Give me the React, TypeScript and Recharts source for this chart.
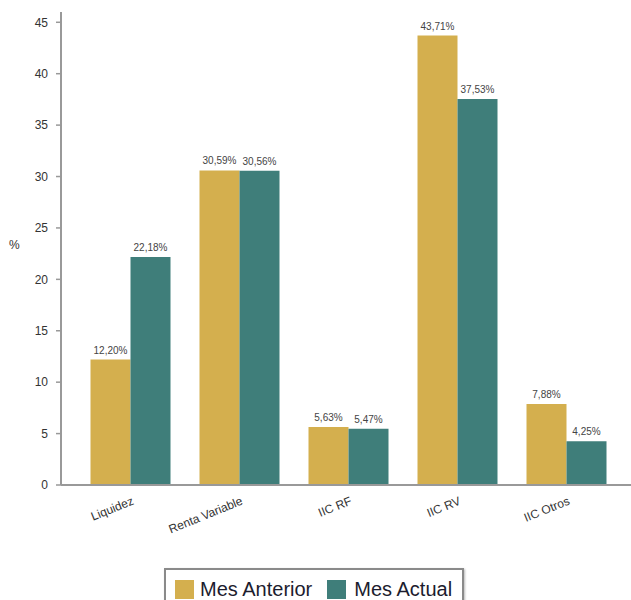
import { BarChart, Bar, XAxis, YAxis, Legend, LabelList } from 'recharts'

const categories = ['Liquidez', 'Renta Variable', 'IIC RF', 'IIC RV', 'IIC Otros']
const mesAnterior = [12.2, 30.59, 5.63, 43.71, 7.88]
const mesActual = [22.18, 30.56, 5.47, 37.53, 4.25]
const yTicks = [0, 5, 10, 15, 20, 25, 30, 35, 40, 45]

const GOLD = '#D4AF4E'
const TEAL = '#3F7E7A'
const FONT = '"Liberation Sans", Arial, sans-serif'

const data = categories.map((name, i) => ({
  name,
  anterior: mesAnterior[i],
  actual: mesActual[i],
}))

const fmt = (v: any) => `${Number(v).toFixed(2).replace('.', ',')}%`

// rotated category labels, ending just right of the band centre
const SlantTick = ({ x, y, payload }: any) => (
  <g transform={`translate(${x + 4},${y + 11}) rotate(-22)`}>
    <text textAnchor="end" fontSize={12} fill="#333" fontFamily={FONT}>
      {payload.value}
    </text>
  </g>
)

const LegendBox = () => (
  <div
    style={{
      display: 'flex',
      alignItems: 'center',
      border: '2px solid #8a8a8a',
      boxShadow: '1px 1px 2px #bbb',
      padding: '8px 10px 10px 9px',
      fontFamily: FONT,
      fontSize: 20,
      color: '#1c1c2e',
      background: '#fff',
    }}
  >
    <span style={{ width: 19, height: 19, background: GOLD, display: 'inline-block', marginRight: 6 }} />
    <span style={{ marginRight: 15 }}>Mes Anterior</span>
    <span style={{ width: 19, height: 19, background: TEAL, display: 'inline-block', marginRight: 8 }} />
    <span>Mes Actual</span>
  </div>
)

export default function App() {
  return (
    <div style={{ position: 'absolute', left: 0, top: 0, width: 631, height: 600, overflow: 'hidden', background: '#fff' }}>
      <BarChart
        width={631}
        height={600}
        data={data}
        margin={{ top: 12, right: 0, left: 0, bottom: 10 }}
        barCategoryGap={14.5}
        barGap={0}
      >
        <XAxis
          dataKey="name"
          height={60}
          padding={{ left: 15, right: 10 }}
          tickLine={false}
          axisLine={{ stroke: '#999', strokeWidth: 2 }}
          tick={<SlantTick />}
          interval={0}
        />
        <YAxis
          width={61}
          domain={[0, 46]}
          ticks={yTicks}
          tickSize={5}
          tickMargin={8}
          axisLine={{ stroke: '#999', strokeWidth: 2 }}
          tickLine={{ stroke: '#999', strokeWidth: 1.5 }}
          tick={{ fontSize: 12, fill: '#333', fontFamily: FONT }}
          label={{ value: '%', position: 'insideLeft', offset: 9, angle: 0, fontSize: 12, fill: '#333', fontFamily: FONT, dy: -4 }}
        />
        <Legend
          content={<LegendBox />}
          wrapperStyle={{ position: 'absolute', left: 164, top: 568, width: 'auto' }}
        />
        <Bar dataKey="anterior" name="Mes Anterior" fill={GOLD} isAnimationActive={false}>
          <LabelList dataKey="anterior" position="top" offset={6} formatter={fmt} style={{ fontSize: 10, fill: '#444', fontFamily: FONT }} />
        </Bar>
        <Bar dataKey="actual" name="Mes Actual" fill={TEAL} isAnimationActive={false}>
          <LabelList dataKey="actual" position="top" offset={6} formatter={fmt} style={{ fontSize: 10, fill: '#444', fontFamily: FONT }} />
        </Bar>
      </BarChart>
    </div>
  )
}
